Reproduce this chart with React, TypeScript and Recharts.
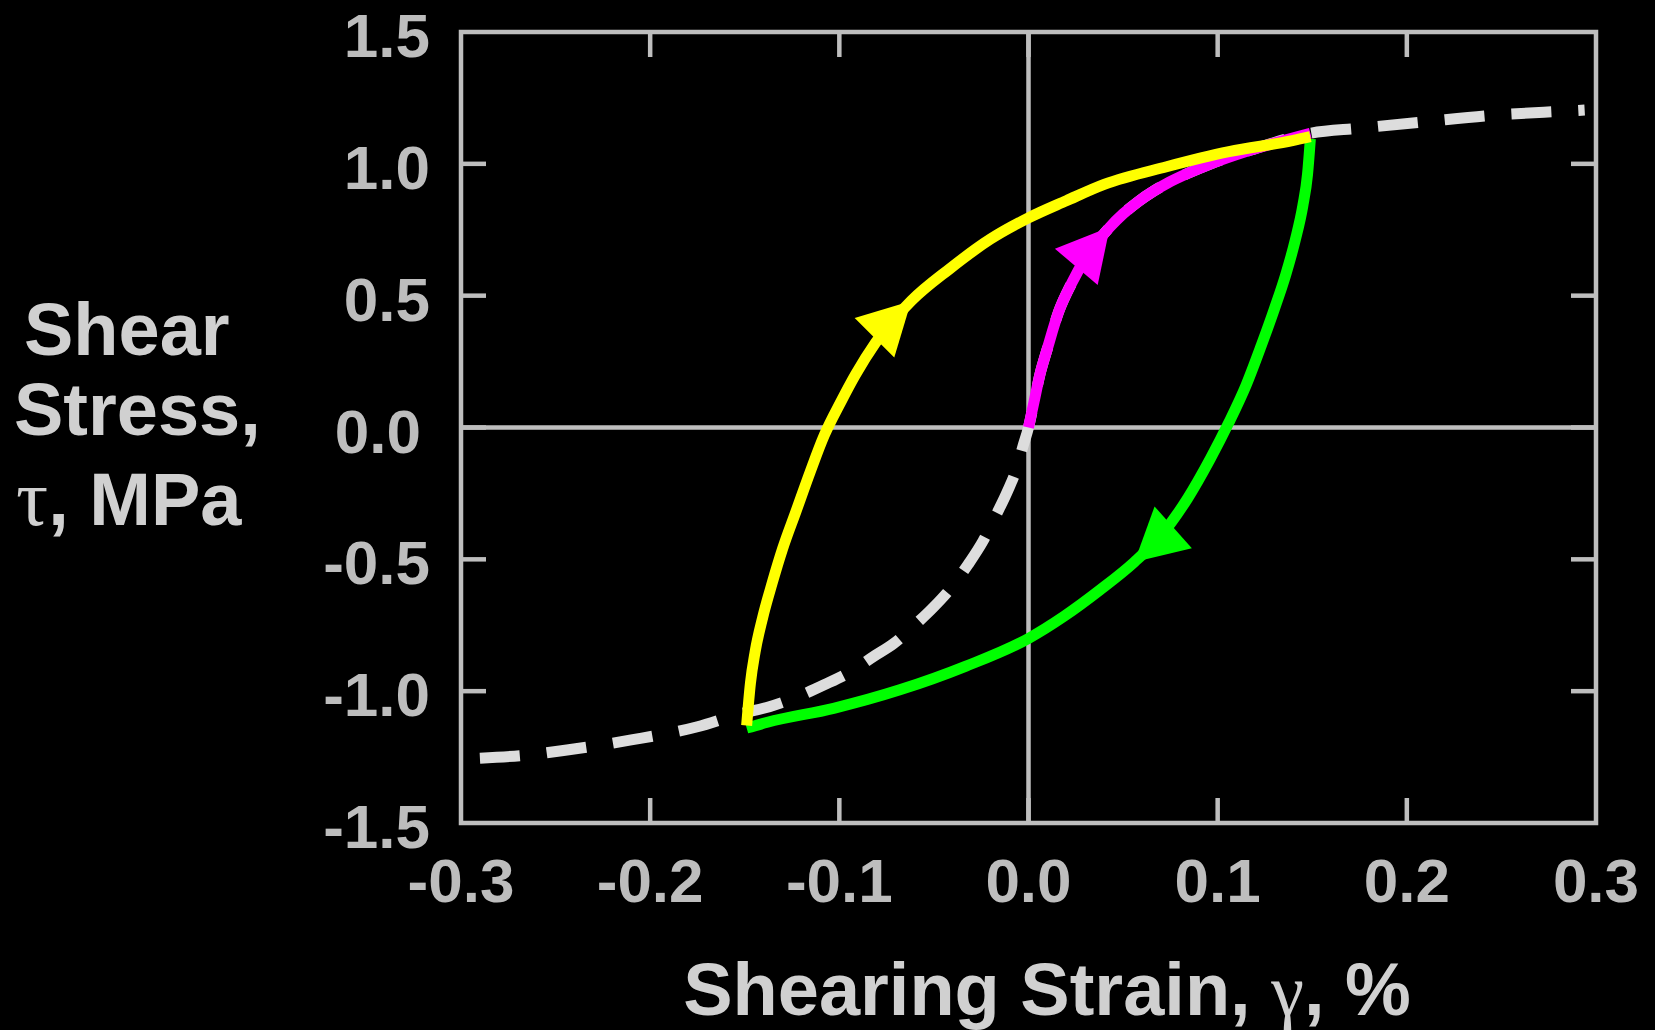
import { LineChart, Line, XAxis, YAxis, ReferenceLine, ReferenceArea } from "recharts";

const strainTicks = [-0.3, -0.2, -0.1, 0, 0.1, 0.2, 0.3];
const stressTicks = [-1.5, -1.0, -0.5, 0, 0.5, 1.0, 1.5];

// backbone curve, negative side (white dashed)
const backboneNegStrain = [-0.29, -0.262, -0.244, -0.21, -0.175, -0.153, -0.137, -0.122, -0.108, -0.094, -0.082, -0.071, -0.061, -0.05, -0.04, -0.032, -0.024, -0.017, -0.011, -0.006, -0.003];
const backboneNegStress = [-1.254, -1.24, -1.223, -1.185, -1.135, -1.087, -1.059, -1.021, -0.976, -0.926, -0.869, -0.818, -0.755, -0.68, -0.6, -0.52, -0.43, -0.33, -0.24, -0.15, -0.073];
// backbone beyond the first peak
const backboneTailStrain = [0.175, 0.21, 0.247, 0.284, 0.294];
const backboneTailStress = [1.135, 1.16, 1.185, 1.2, 1.204];

// initial loading (magenta)
const loadingStrain = [0, 0.003, 0.006, 0.01, 0.016, 0.023, 0.03, 0.043, 0.05, 0.058, 0.066, 0.073, 0.084, 0.095, 0.117, 0.149];
const loadingStress = [0, 0.1, 0.2, 0.3, 0.44, 0.55, 0.64, 0.76, 0.81, 0.857, 0.896, 0.925, 0.963, 0.996, 1.051, 1.116];
const loadingArrowAt = 7;

// unloading / reverse loading (green)
const unloadStrain = [0.149, 0.1475, 0.145, 0.141, 0.136, 0.13, 0.123, 0.115, 0.106, 0.096, 0.084, 0.07, 0.056, 0.038, 0.019, 0, -0.033, -0.068, -0.103, -0.138, -0.149];
const unloadStress = [1.095, 0.96, 0.84, 0.71, 0.58, 0.45, 0.31, 0.16, 0.02, -0.12, -0.27, -0.41, -0.51, -0.615, -0.715, -0.8, -0.905, -0.995, -1.065, -1.118, -1.14];
const unloadArrowAt = 12;

// reloading (yellow)
const reloadStrain = [-0.149, -0.147, -0.1445, -0.1405, -0.1355, -0.13, -0.123, -0.1155, -0.108, -0.099, -0.0915, -0.081, -0.062, -0.042, -0.02, 0, 0.02, 0.04, 0.073, 0.106, 0.1395, 0.149];
const reloadStress = [-1.13, -0.97, -0.85, -0.72, -0.59, -0.46, -0.32, -0.17, -0.03, 0.1, 0.2, 0.32, 0.48, 0.6, 0.715, 0.795, 0.86, 0.922, 0.989, 1.046, 1.088, 1.103];
const reloadArrowAt = 12;

const toRows = (xs: number[], ys: number[]) => xs.map((strain, i) => ({ strain, stress: ys[i] }));

const backbone = [
  ...toRows(backboneNegStrain, backboneNegStress),
  ...toRows(loadingStrain, loadingStress),
  ...toRows(backboneTailStrain, backboneTailStress),
];
const loading = toRows(loadingStrain, loadingStress);
const unloading = toRows(unloadStrain, unloadStress);
const reloading = toRows(reloadStrain, reloadStress);

const W = 1655;
const H = 1030;
const PLOT = { left: 461, right: 1596, top: 32, bottom: 823 };
const Y_AXIS_W = 100;
const X_AXIS_H = 100;

const GRAY = "#BEBEBE";
const LABEL = "#BDBDBD";
const TITLE = "#D0D0D0";
const SANS = "'Liberation Sans', Arial, sans-serif";
const SERIF = "'Liberation Serif', 'Times New Roman', serif";
const TICK_LEN = 25;
const AXIS_W = 4.5;
const CURVE_W = 11;

const ARROW_LEN = 52;
const ARROW_HALF = 28;

function StrainTick({ x, y, payload }: any) {
  const v = payload.value;
  const edge = v === strainTicks[0] || v === strainTicks[strainTicks.length - 1];
  return (
    <g>
      {!edge && (
        <>
          <line x1={x} x2={x} y1={y} y2={y - TICK_LEN} stroke={GRAY} strokeWidth={AXIS_W} />
          <line x1={x} x2={x} y1={PLOT.top} y2={PLOT.top + TICK_LEN} stroke={GRAY} strokeWidth={AXIS_W} />
        </>
      )}
      <text x={x} y={y + 79} textAnchor="middle" fontFamily={SANS} fontWeight="bold" fontSize={62} fill={LABEL}>
        {v.toFixed(1)}
      </text>
    </g>
  );
}

function StressTick({ x, y, payload }: any) {
  const v = payload.value;
  const edge = v === stressTicks[0] || v === stressTicks[stressTicks.length - 1];
  return (
    <g>
      {!edge && (
        <>
          <line x1={x} x2={x + TICK_LEN} y1={y} y2={y} stroke={GRAY} strokeWidth={AXIS_W} />
          <line x1={PLOT.right} x2={PLOT.right - TICK_LEN} y1={y} y2={y} stroke={GRAY} strokeWidth={AXIS_W} />
        </>
      )}
      <text x={x - 31 + (v === 0 ? -9 : 0)} y={y + 25} textAnchor="end" fontFamily={SANS} fontWeight="bold" fontSize={62} fill={LABEL}>
        {v.toFixed(1)}
      </text>
    </g>
  );
}

const xTitle = () => (
  <text x={1047} y={1015} textAnchor="middle" fontFamily={SANS} fontWeight="bold" fontSize={74} fill={TITLE}>
    Shearing Strain, <tspan fontFamily={SERIF} fontWeight="normal">γ</tspan>, %
  </text>
);

const yTitle = () => (
  <text fontFamily={SANS} fontWeight="bold" fontSize={74} fill={TITLE}>
    <tspan x={24} y={355}>Shear</tspan>
    <tspan x={14} y={435}>Stress,</tspan>
    <tspan x={16} y={525}>
      <tspan fontFamily={SERIF} fontWeight="normal" fontSize={80}>τ</tspan>, MPa
    </tspan>
  </text>
);

// arrowhead on one point of a branch, pointing along the direction of travel
const arrowDot = (color: string, at: number) => (props: any) => {
  const { cx, cy, index, points } = props;
  if (index !== at || cx == null || !points) return <g key={`d-${index}`} />;
  const prev = points[index - 1] ?? points[index];
  const next = points[index + 1] ?? points[index];
  let dx = next.x - prev.x;
  let dy = next.y - prev.y;
  const len = Math.hypot(dx, dy) || 1;
  dx /= len;
  dy /= len;
  const bx = cx - dx * ARROW_LEN;
  const by = cy - dy * ARROW_LEN;
  const px = -dy * ARROW_HALF;
  const py = dx * ARROW_HALF;
  return (
    <polygon
      key={`d-${index}`}
      points={`${cx},${cy} ${bx + px},${by + py} ${bx - px},${by - py}`}
      fill={color}
    />
  );
};

export default function App() {
  return (
    <div style={{ position: "fixed", left: 0, top: 0, width: W, height: H, background: "#000" }}>
      <LineChart
        width={W}
        height={H}
        margin={{
          top: PLOT.top,
          right: W - PLOT.right,
          left: PLOT.left - Y_AXIS_W,
          bottom: H - PLOT.bottom - X_AXIS_H,
        }}
      >
        <XAxis
          dataKey="strain"
          type="number"
          domain={[-0.3, 0.3]}
          ticks={strainTicks}
          allowDataOverflow
          height={X_AXIS_H}
          axisLine={false}
          tickLine={false}
          tickSize={0}
          tickMargin={0}
          tick={<StrainTick />}
          interval={0}
          label={{ content: xTitle }}
        />
        <YAxis
          dataKey="stress"
          type="number"
          domain={[-1.5, 1.5]}
          ticks={stressTicks}
          allowDataOverflow
          width={Y_AXIS_W}
          axisLine={false}
          tickLine={false}
          tickSize={0}
          tickMargin={0}
          tick={<StressTick />}
          interval={0}
          label={{ content: yTitle }}
        />
        <ReferenceLine x={0} stroke={GRAY} strokeWidth={AXIS_W} />
        <ReferenceLine y={0} stroke={GRAY} strokeWidth={AXIS_W} />
        <ReferenceArea x1={-0.3} x2={0.3} y1={-1.5} y2={1.5} fill="none" stroke={GRAY} strokeWidth={AXIS_W} />
        <Line
          data={backbone}
          dataKey="stress"
          type="monotone"
          stroke="#DDDDDD"
          strokeWidth={CURVE_W}
          strokeDasharray="40 27"
          dot={false}
          activeDot={false}
          isAnimationActive={false}
        />
        <Line
          data={loading}
          dataKey="stress"
          type="monotone"
          stroke="#FF00FF"
          strokeWidth={CURVE_W}
          strokeLinejoin="round"
          dot={arrowDot("#FF00FF", loadingArrowAt)}
          activeDot={false}
          isAnimationActive={false}
        />
        <Line
          data={unloading}
          dataKey="stress"
          type="monotone"
          stroke="#00FF00"
          strokeWidth={CURVE_W}
          strokeLinejoin="round"
          dot={arrowDot("#00FF00", unloadArrowAt)}
          activeDot={false}
          isAnimationActive={false}
        />
        <Line
          data={reloading}
          dataKey="stress"
          type="monotone"
          stroke="#FFFF00"
          strokeWidth={CURVE_W}
          strokeLinejoin="round"
          dot={arrowDot("#FFFF00", reloadArrowAt)}
          activeDot={false}
          isAnimationActive={false}
        />
      </LineChart>
    </div>
  );
}
